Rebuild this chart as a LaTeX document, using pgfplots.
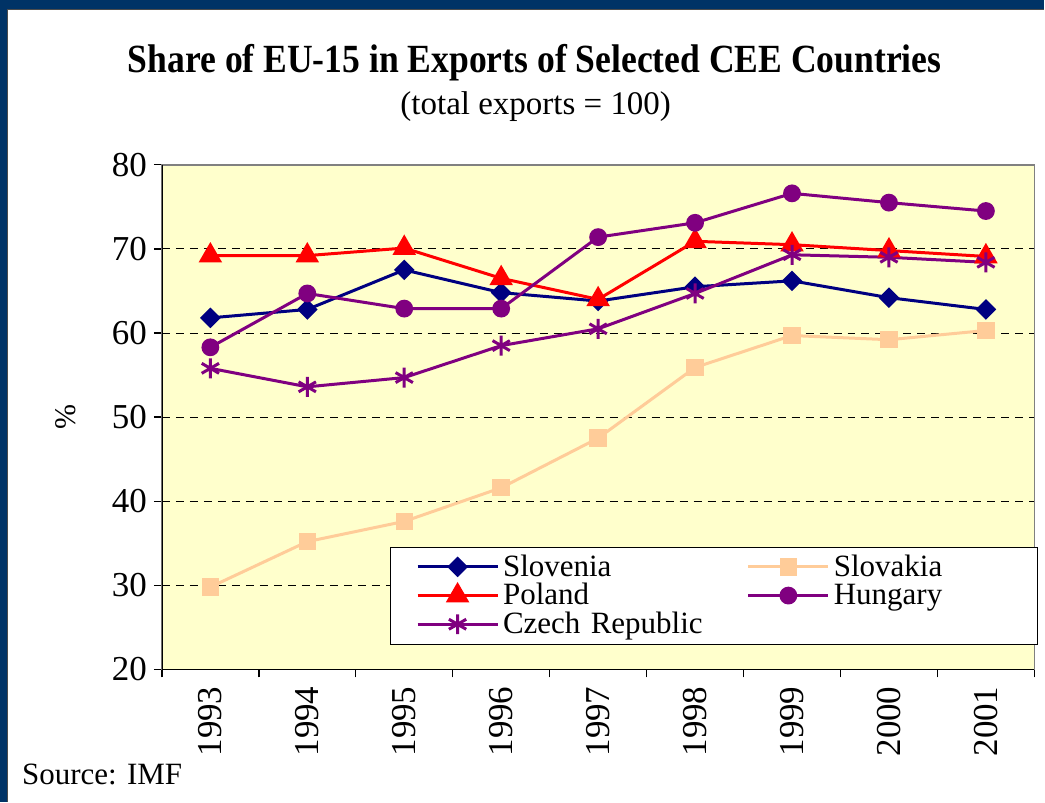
\documentclass[border=0pt]{standalone}
\usepackage{pgfplots}
\pgfplotsset{compat=1.18}
\usepackage{fontspec}
\setmainfont{Liberation Serif}

\definecolor{frameblue}{RGB}{0,51,102}
\definecolor{plotbg}{RGB}{255,255,204}
\definecolor{cslovenia}{RGB}{0,0,128}
\definecolor{cslovakia}{RGB}{255,204,153}
\definecolor{cpoland}{RGB}{255,0,0}
\definecolor{cpurple}{RGB}{128,0,128}

\begin{document}
\begin{tikzpicture}[x=0.5pt,y=0.5pt]
% page and frame
\fill[white] (0,0) rectangle (1045,802);
\fill[frameblue] (0,793) rectangle (1045,802);
\fill[frameblue] (0,0) rectangle (7,802);
\draw[gray!60!black, line width=0.6pt] (7,792.6) -- (1045,792.6);
\draw[gray!60!black, line width=0.6pt] (7.4,0) -- (7.4,792.6);

\node[anchor=base, font=\fontsize{20}{24}\selectfont\bfseries] at (535,729)
  {\scalebox{0.89}[1]{Share of EU-15 in Exports of Selected CEE Countries}};
\node[anchor=base, font=\fontsize{16.5}{19}\selectfont] at (536,687) {(total exports = 100)};
\node[anchor=base west, font=\fontsize{15.5}{18}\selectfont] at (15,17) {Source: IMF};

\begin{axis}[
    at={(167,157)}, anchor=south west,
    scale only axis,
    width=436.5pt, height=252.5pt,
    xmin=0.5, xmax=9.5,
    ymin=20, ymax=80,
    axis background/.style={fill=plotbg},
    axis line style={draw=gray, line width=0.8pt},
    tick align=outside,
    xtick pos=bottom, ytick pos=left,
    tick style={black, line width=0.7pt},
    major tick length=4pt,
    ytick={20,30,...,80},
    yticklabels={20,30,40,50,60,70,80},
    xtick={0.5,1.5,...,9.5},
    xticklabels={},
    extra x ticks={1,2,...,9},
    extra x tick labels={1993,1994,1995,1996,1997,1998,1999,2000,2001},
    extra x tick style={major tick length=0pt,
        tick label style={rotate=90, anchor=east, xshift=-5pt}},
    ymajorgrids,
    major grid style={black, line width=0.5pt, dash pattern=on 4pt off 3pt},
    /pgf/number format/assume math mode=true,
    tick label style={font=\rmfamily\fontsize{17.5}{20}\selectfont},
    ylabel={\%},
    ylabel style={at={(axis description cs:-0.11,0.5)}, anchor=center,
        font=\fontsize{15}{18}\selectfont},
    legend columns=2,
    legend cell align=left,
    legend style={at={(axis description cs:0.261,0.2436)}, anchor=north west,
        draw=black, line width=0.5pt, fill=white,
        font=\fontsize{15.5}{15.5}\selectfont,
        nodes={inner ysep=0.3pt},
        inner xsep=13pt, inner ysep=3.5pt, row sep=1.5pt,
        /tikz/column 2/.style={text width=120pt},
        /tikz/column 4/.style={text width=87pt}},
    legend image code/.code={%
        \draw[mark repeat=2, mark phase=2, #1]
        plot coordinates {(0pt,0pt) (20pt,0pt) (40pt,0pt)};},
    every axis plot/.append style={line width=1.5pt},
]
\addplot[cslovenia, mark=square*, mark size=2.9pt, mark options={rotate=45, solid}]
  coordinates {(1,61.8) (2,62.8) (3,67.5) (4,64.8) (5,63.8) (6,65.5) (7,66.2) (8,64.2) (9,62.8)};
\addlegendentry{Slovenia}
\addplot[cslovakia, mark=square*, mark size=3.6pt]
  coordinates {(1,29.8) (2,35.2) (3,37.6) (4,41.6) (5,47.5) (6,55.9) (7,59.7) (8,59.2) (9,60.3)};
\addlegendentry{Slovakia}
\addplot[cpoland, mark=triangle*, mark size=5.3pt]
  coordinates {(1,69.2) (2,69.2) (3,70.1) (4,66.5) (5,64.0) (6,70.9) (7,70.5) (8,69.8) (9,69.1)};
\addlegendentry{Poland}
\addplot[cpurple, mark=*, mark size=3.7pt]
  coordinates {(1,58.3) (2,64.7) (3,62.9) (4,62.9) (5,71.4) (6,73.1) (7,76.6) (8,75.5) (9,74.5)};
\addlegendentry{Hungary}
\addplot[cpurple, mark=asterisk, mark size=5pt]
  coordinates {(1,55.8) (2,53.6) (3,54.7) (4,58.5) (5,60.5) (6,64.7) (7,69.3) (8,69.0) (9,68.4)};
\addlegendentry{Czech Republic}
\draw[black, line width=0.8pt] (rel axis cs:0,1) -- (rel axis cs:0,0) -- (rel axis cs:1,0);
\end{axis}
\end{tikzpicture}
\end{document}
